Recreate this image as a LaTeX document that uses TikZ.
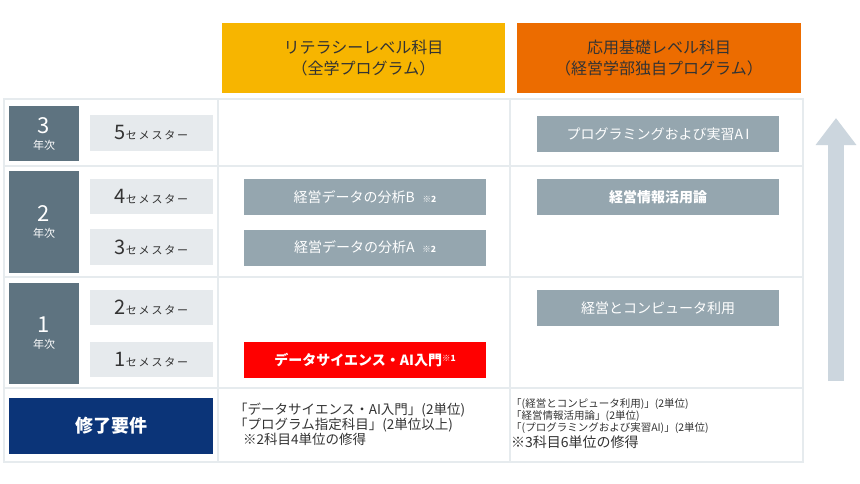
\documentclass[tikz,border=0pt]{standalone}
\usepackage{fontspec}
\setmainfont{Noto Sans CJK JP}
\usetikzlibrary{positioning, arrows.meta}

\definecolor{litcol}{HTML}{F7B500}
\definecolor{appcol}{HTML}{EC6C00}
\definecolor{yearcol}{HTML}{5E7380}
\definecolor{semcol}{HTML}{E6EAED}
\definecolor{coursecol}{HTML}{95A6AF}
\definecolor{navycol}{HTML}{0B3478}
\definecolor{gridcol}{HTML}{E6EBEE}
\definecolor{arrowcol}{HTML}{CCD6DE}
\definecolor{textcol}{HTML}{333333}

% semester label: big number, small kana
\newcommand{\semlabel}[1]{{\fontsize{20}{20}\selectfont #1}{\fontsize{11}{11}\selectfont セ\,メ\,ス\,タ\,ー}}
% year label
\newcommand{\yearlabel}[1]{{\fontsize{22}{24}\selectfont #1}\\[4pt]{\fontsize{11}{13}\selectfont 年次}}
% small note mark
\newcommand{\note}[1]{{\fontsize{8.5}{8}\selectfont\bfseries #1}}

\tikzset{
  header/.style={minimum width=284pt, minimum height=70pt, inner sep=0pt, align=center,
    text=textcol, font=\fontsize{16}{21}\selectfont},
  yearbox/.style={fill=yearcol, text=white, minimum width=70pt, inner sep=0pt, align=center},
  sembox/.style={fill=semcol, text=textcol, minimum width=123pt, minimum height=36pt, inner sep=0pt},
  course/.style={fill=coursecol, text=white, minimum width=242pt, minimum height=36pt, inner sep=0pt,
    font=\fontsize{14}{16}\selectfont},
  grid/.style={gridcol, line width=1.5pt}
}

\begin{document}
\begin{tikzpicture}[x=1pt, y=-1pt]

  \useasboundingbox[fill=white] (0,0) rectangle (860,483);

  % Header boxes
  \node[header, fill=litcol, minimum width=283pt] (lit) at (363.5,58) {リテラシーレベル科目\\（全学プログラム）};
  \node[header, fill=appcol] (app) at (659,58) {応用基礎レベル科目\\（経営学部独自プログラム）};

  % Table grid
  \draw[grid] (4,99) rectangle (803,462);
  \foreach \y in {166, 277, 388}
    \draw[grid] (4,\y) -- (803,\y);
  \draw[grid] (218,99) -- (218,462);
  \draw[grid] (510,99) -- (510,462);

  % Years
  \node[yearbox, minimum height=55pt] (year3) at (44,133.5) {\yearlabel{3}};
  \node[yearbox, minimum height=102pt] (year2) at (44,222) {\yearlabel{2}};
  \node[yearbox, minimum height=101pt] (year1) at (44,333.5) {\yearlabel{1}};

  % Semesters
  \node[sembox] (sem5) at (151.5,133) {\semlabel{5}};
  \node[sembox, minimum height=35pt] (sem4) at (151.5,196.5) {\semlabel{4}};
  \node[sembox] (sem3) at (151.5,247) {\semlabel{3}};
  \node[sembox, minimum height=35pt] (sem2) at (151.5,307.5) {\semlabel{2}};
  \node[sembox, minimum height=35pt] (sem1) at (151.5,359.5) {\semlabel{1}};

  % Completion requirement
  \node[fill=navycol, text=white, minimum width=204pt, minimum height=56pt, inner sep=0pt,
    font=\fontsize{18}{18}\selectfont\bfseries] (req) at (111,426) {修了要件};

  % Literacy level courses
  \node[course] (anaB) at (365,197) {経営データの分析B\,\, \note{※2}};
  \node[course] (anaA) at (365,247.5) {経営データの分析A\,\, \note{※2}};
  \node[course, fill=red, font=\fontsize{14}{16}\selectfont\bfseries] (intro) at (365,360)
    {データサイエンス・AI入門\raisebox{4pt}{\note{※1}}};

  % Applied level courses
  \node[course] (prog) at (658,134) {プログラミングおよび実習A\,I};
  \node[course, font=\fontsize{14}{16}\selectfont\bfseries] (info) at (658,197) {経営情報活用論};
  \node[course] (comp) at (658,308) {経営とコンピュータ利用};

  % Requirement texts
  \node[anchor=north west, align=left, inner sep=0pt, text=textcol,
    font=\fontsize{13.5}{15}\selectfont] (reqlit) at (234,403)
    {「データサイエンス・AI入門」(2単位)\\「プログラム指定科目」(2単位以上)\\\hspace{9pt}※2科目4単位の修得};
  \node[anchor=north west, align=left, inner sep=0pt, text=textcol,
    font=\fontsize{10.5}{12}\selectfont] (reqapp) at (511,398)
    {「(経営とコンピュータ利用)」(2単位)\\「経営情報活用論」(2単位)\\「(プログラミングおよび実習AI)」(2単位)\\[2pt]
     {\fontsize{14}{16}\selectfont ※3科目6単位の修得}};

  % Progress arrow
  \coordinate (arrowstart) at (836,381);
  \coordinate (arrowend) at (836,118);
  \draw[arrowcol, line width=16pt, -{Triangle[width=39pt, length=27pt]}] (arrowstart) -- (arrowend);

\end{tikzpicture}
\end{document}
